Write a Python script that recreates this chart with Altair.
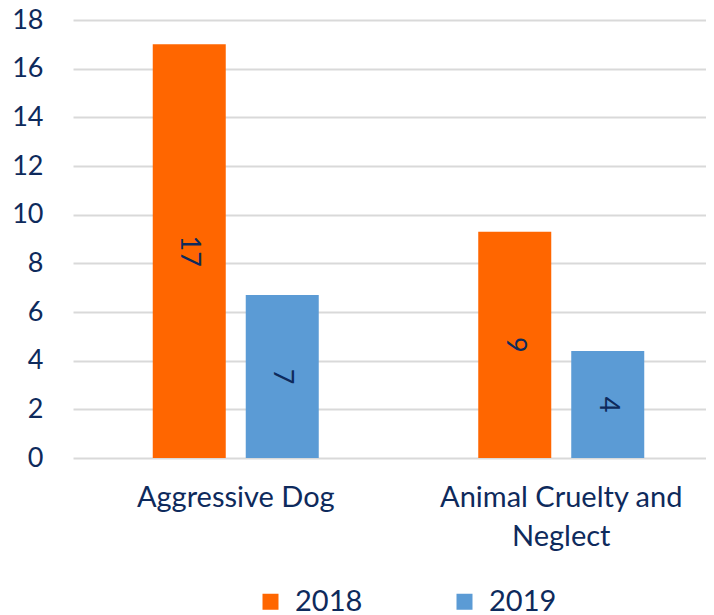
import altair as alt
import pandas as pd

categories = ["Aggressive Dog", "Animal Cruelty and Neglect"]
years = ["2018", "2019"]
values_2018 = [17.0, 9.3]
values_2019 = [6.7, 4.4]
labels_2018 = ["17", "9"]
labels_2019 = ["7", "4"]
y_ticks = [0, 2, 4, 6, 8, 10, 12, 14, 16, 18]
colors = ["#FF6600", "#5B9BD5"]

rows = []
for i, c in enumerate(categories):
    rows.append({"category": c, "year": years[0], "value": values_2018[i], "label": labels_2018[i]})
    rows.append({"category": c, "year": years[1], "value": values_2019[i], "label": labels_2019[i]})
df = pd.DataFrame(rows)

navy = "#0e2a5c"
font = "Lato"
fs = 27
fs_big = 29

base = alt.Chart(df).encode(
    x=alt.X(
        "category:N", sort=categories, title=None,
        scale=alt.Scale(range=[0, 651], paddingInner=0.49, paddingOuter=0.245),
        axis=alt.Axis(
            labelAngle=0, ticks=False, domain=False, labelFontSize=fs_big, labelColor=navy,
            labelFont=font, labelPadding=25, labelLineHeight=39, labelLimit=1000,
            labelExpr="datum.value == 'Animal Cruelty and Neglect' ? ['Animal Cruelty and', 'Neglect'] : datum.label",
        ),
    ),
    xOffset=alt.XOffset("year:N", sort=years, scale=alt.Scale(paddingInner=0.215, paddingOuter=0)),
)

bars = base.mark_bar().encode(
    y=alt.Y(
        "value:Q", title=None, scale=alt.Scale(domain=[0, 18]),
        axis=alt.Axis(
            values=y_ticks, domain=False, ticks=False, gridColor="#d9d9d9", gridWidth=2,
            labelPadding=30, labelFontSize=fs, labelColor=navy, labelFont=font,
        ),
    ),
    color=alt.Color(
        "year:N", sort=years, scale=alt.Scale(domain=years, range=colors),
        legend=alt.Legend(
            orient="none", legendX=183, legendY=567, direction="horizontal", title=None,
            symbolType="square", symbolSize=256, symbolStrokeWidth=0, labelFontSize=fs_big,
            labelColor=navy, labelFont=font, columnPadding=87, labelOffset=10,
        ),
    ),
)

texts = base.mark_text(angle=90, font=font, fontSize=fs, color=navy).encode(
    y=alt.Y("mid:Q"),
    text="label:N",
).transform_calculate(mid="datum.value / 2")

chart = alt.layer(bars, texts).properties(
    width=633, height=438,
    autosize=alt.AutoSizeParams(type="none"),
    padding={"left": 65, "top": 12, "right": 0, "bottom": 157},
).configure_view(stroke=None)

chart.save("out.html", embed_options={"renderer": "svg", "actions": False})
